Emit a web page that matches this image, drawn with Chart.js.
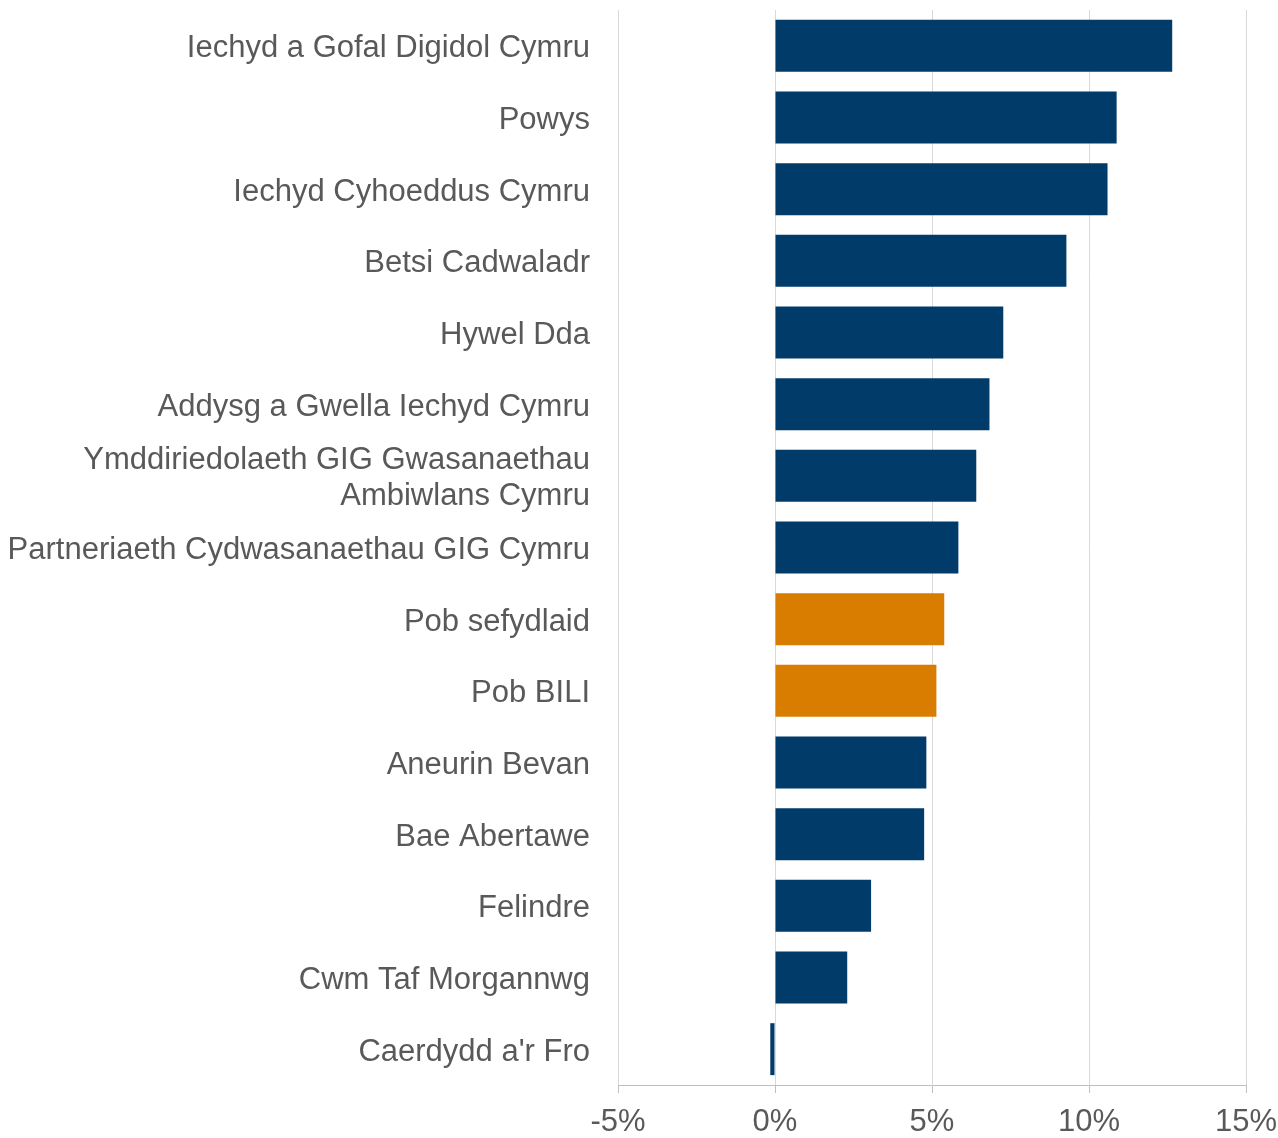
<!DOCTYPE html>
<html>
<head>
<meta charset="utf-8">
<script src="https://cdn.jsdelivr.net/npm/chart.js@4"></script>
<style>
html,body{margin:0;padding:0;background:#fff;}
#wrap{width:1278px;height:1138px;position:relative;}
</style>
</head>
<body>
<div id="wrap"><canvas id="c" width="1278" height="1138"></canvas></div>
<script>
const categories = [
  "Iechyd a Gofal Digidol Cymru",
  "Powys",
  "Iechyd Cyhoeddus Cymru",
  "Betsi Cadwaladr",
  "Hywel Dda",
  "Addysg a Gwella Iechyd Cymru",
  ["Ymddiriedolaeth GIG Gwasanaethau", "Ambiwlans Cymru"],
  "Partneriaeth Cydwasanaethau GIG Cymru",
  "Pob sefydlaid",
  "Pob BILI",
  "Aneurin Bevan",
  "Bae Abertawe",
  "Felindre",
  "Cwm Taf Morgannwg",
  "Caerdydd a'r Fro"
];
const values = [12.65, 10.88, 10.59, 9.28, 7.27, 6.83, 6.41, 5.84, 5.39, 5.14, 4.82, 4.75, 3.06, 2.30, -0.15];
const highlighted = [false, false, false, false, false, false, false, false, true, true, false, false, false, false, false];
const xTicks = [-5, 0, 5, 10, 15];

const NAVY = '#003B6A';
const ORANGE = '#D97D00';
const TEXT = '#595959';

new Chart(document.getElementById('c'), {
  type: 'bar',
  data: {
    labels: categories,
    datasets: [{
      data: values,
      backgroundColor: highlighted.map(h => h ? ORANGE : NAVY),
      borderWidth: 0,
      barPercentage: 0.725,
      categoryPercentage: 1.0
    }]
  },
  options: {
    indexAxis: 'y',
    responsive: false,
    animation: false,
    layout: { padding: { top: 10, right: 32, left: 0, bottom: 0 } },
    plugins: { legend: { display: false }, tooltip: { enabled: false } },
    scales: {
      x: {
        min: -5, max: 15,
        afterBuildTicks: s => { s.ticks = xTicks.map(v => ({ value: v })); },
        afterFit: s => { s.height = 53; s.paddingLeft = 0; s.paddingRight = 0; },
        grid: { color: '#d9d9d9', lineWidth: 1, drawTicks: true, tickLength: 8, tickColor: '#bfbfbf' },
        border: { display: true, color: '#bfbfbf', width: 1 },
        ticks: {
          color: TEXT,
          font: { family: 'Liberation Sans, Arial, sans-serif', size: 31 },
          padding: 11,
          maxRotation: 0,
          callback: v => v + '%'
        }
      },
      y: {
        afterFit: s => { s.width = 618; s.paddingTop = 0; s.paddingBottom = 0; },
        grid: { display: false, drawTicks: false },
        border: { display: false },
        ticks: {
          color: TEXT,
          font: { family: 'Liberation Sans, Arial, sans-serif', size: 31, lineHeight: 1.16 },
          padding: 28,
          labelOffset: 3,
          autoSkip: false
        }
      }
    }
  }
});
</script>
</body>
</html>
